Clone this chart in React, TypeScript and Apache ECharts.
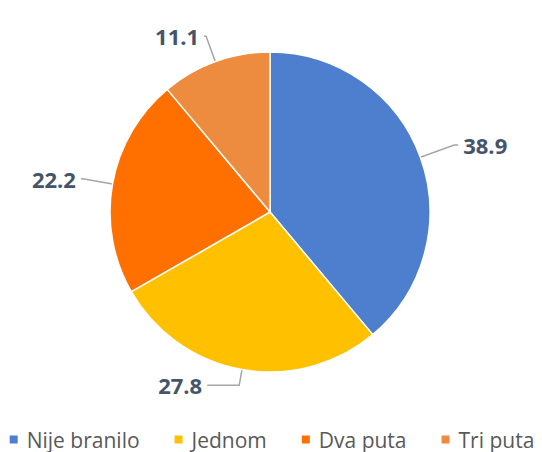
import React, { useEffect, useRef } from "react";
import * as echarts from "echarts";

const categories = ["Nije branilo", "Jednom", "Dva puta", "Tri puta"];
const values = [38.9, 27.8, 22.2, 11.1];
const colors = ["#4E7FCE", "#FFC000", "#FF7000", "#ED8B3E"];
const lineLengths = [36, 16, 30, 27];
const lineLengths2 = [4, 32, 2, 2];

export default function App() {
  const ref = useRef<HTMLDivElement>(null);
  useEffect(() => {
    if (!ref.current) return;
    const chart = echarts.init(ref.current, null, { renderer: "svg" });
    chart.setOption({
      animation: false,
      color: colors,
      legend: {
        top: 424,
        left: "center",
        icon: "rect",
        itemWidth: 10,
        itemHeight: 10,
        itemGap: 33,
        textStyle: { fontFamily: "Open Sans", fontSize: 21, color: "#595959", padding: [0, 0, 0, 3] },
        data: categories,
      },
      series: [
        {
          type: "pie",
          center: [270, 212],
          radius: 160,
          startAngle: 90,
          clockwise: true,
          data: categories.map((name, i) => ({
            name,
            value: values[i],
            labelLine: { length: lineLengths[i], length2: lineLengths2[i] },
          })),
          itemStyle: { borderColor: "#fff", borderWidth: 1.5 },
          label: {
            show: true,
            formatter: (p: any) => p.value.toFixed(1),
            fontFamily: "Open Sans",
            fontWeight: "bold",
            fontSize: 22,
            color: "#44546A",
          },
          labelLine: {
            show: true,
            lineStyle: { color: "#A6A6A6", width: 1.5 },
          },
        },
      ],
    });
    return () => chart.dispose();
  }, []);
  return (
    <div
      ref={ref}
      style={{ position: "absolute", left: 0, top: 0, width: 542, height: 452 }}
    />
  );
}
